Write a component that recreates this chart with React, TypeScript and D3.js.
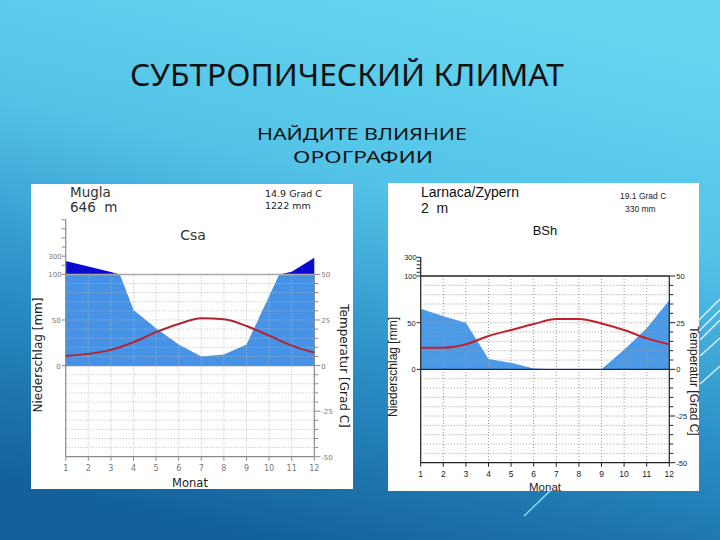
import React from "react";
import * as d3 from "d3";

const months = [1, 2, 3, 4, 5, 6, 7, 8, 9, 10, 11, 12];
const muglaPrecip = [246, 188, 126, 61, 41, 23, 10, 12, 23, 76, 130, 283];
const muglaTemp = [5.3, 6.4, 8.6, 12.8, 18.3, 22.8, 25.9, 25.4, 21.7, 16.4, 10.9, 7.1];
const larnacaPrecip = [65, 57, 50, 11, 7, 1, 0, 0, 0, 21, 44, 74];
const larnacaTemp = [11.6, 11.6, 13.4, 17.9, 21.1, 24.3, 27, 27, 24.6, 21.1, 16.6, 13.4];
const tempTicks = d3.range(-50, 51, 5);
const tempLabels = [-50, -25, 0, 25, 50];

type Cfg = {
  x0: number; x1: number; yTop: number; yBot: number; axisMax: number; compTickStep: number;
  precip: number[]; temp: number[];
  axis: string; text: string; grid: string; red: string; light: string; dark: string; hundred: string; zero: string;
  font: string; labelSize: number;
  precipLabelX: number; precipLabelY: number; tempLabelX: number; tempLabelY: number;
  monatX: number; monatY: number; monthLabelDy: number;
};

function Chart({ c }: { c: Cfg }) {
  const x = d3.scaleLinear().domain([1, 12]).range([c.x0, c.x1]);
  const yT = d3.scaleLinear().domain([-50, 50]).range([c.yBot, c.yTop]);
  const yLin = (p: number) => yT(Math.min(p, 100) / 2);
  const yComp = (p: number) => yT(50 + (Math.max(p, 100) - 100) / 20);
  const pts: { m: number; p: number }[] = [];
  c.precip.forEach((p, i) => {
    pts.push({ m: months[i], p });
    if (i < 11) {
      const q = c.precip[i + 1];
      if ((p - 100) * (q - 100) < 0) {
        const t = (100 - p) / (q - p);
        pts.push({ m: months[i] + t, p: 100 });
      }
    }
  });
  const light = d3.area<{ m: number; p: number }>().x(d => x(d.m)).y0(yT(0)).y1(d => yLin(d.p))(pts) || "";
  const dark = d3.area<{ m: number; p: number }>().x(d => x(d.m)).y0(yT(50)).y1(d => yComp(d.p))(pts) || "";
  const tline = d3.line<number>().x((_, i) => x(months[i])).y(d => yT(d)).curve(d3.curveMonotoneX)(c.temp) || "";
  const compTicks = d3.range(100, c.axisMax + 1, c.compTickStep);
  const axisTopY = yComp(c.axisMax);
  return (
    <g fontFamily={c.font}>
      <path d={light} fill={c.light} />
      <path d={dark} fill={c.dark} />
      {months.slice(1, 11).map(m => (
        <line key={"v" + m} x1={x(m)} x2={x(m)} y1={yT(50)} y2={yT(-50)} stroke={c.grid} strokeDasharray="1,2" strokeWidth={1} />
      ))}
      {tempTicks.filter(t => t > -50 && t < 50 && t !== 0).map(t => (
        <line key={"h" + t} x1={c.x0} x2={c.x1} y1={yT(t)} y2={yT(t)} stroke={c.grid} strokeDasharray="1,2" strokeWidth={1} />
      ))}
      <line x1={c.x0} x2={c.x1} y1={yT(0)} y2={yT(0)} stroke={c.zero} strokeWidth={1.2} />
      <line x1={c.x0} x2={c.x1} y1={yT(50)} y2={yT(50)} stroke={c.hundred} strokeWidth={1.5} />
      <line x1={c.x0} x2={c.x0} y1={axisTopY} y2={yT(-50)} stroke={c.axis} strokeWidth={1.2} />
      <line x1={c.x1} x2={c.x1} y1={yT(50)} y2={yT(-50)} stroke={c.axis} strokeWidth={1.2} />
      <line x1={c.x0} x2={c.x1} y1={yT(-50)} y2={yT(-50)} stroke={c.axis} strokeWidth={1.2} />
      {compTicks.map(t => (
        <line key={"c" + t} x1={c.x0 - 4} x2={c.x0} y1={yComp(t)} y2={yComp(t)} stroke={c.axis} strokeWidth={1} />
      ))}
      {[0, 50].map(t => (
        <line key={"l" + t} x1={c.x0 - 4} x2={c.x0} y1={yLin(t)} y2={yLin(t)} stroke={c.axis} strokeWidth={1} />
      ))}
      {[300, 100].map(t => (
        <text key={"cl" + t} x={c.x0 - 4} y={yComp(t) + 3} fontSize={c.labelSize - 1} fill={c.text} textAnchor="end">{t}</text>
      ))}
      {[50, 0].map(t => (
        <text key={"ll" + t} x={c.x0 - 5} y={yLin(t) + 3} fontSize={c.labelSize - 1} fill={c.text} textAnchor="end">{t}</text>
      ))}
      {tempTicks.map(t => (
        <line key={"rt" + t} x1={c.x1} x2={c.x1 + (t % 25 === 0 ? 6 : 4)} y1={yT(t)} y2={yT(t)} stroke={c.axis} strokeWidth={1} />
      ))}
      {tempLabels.map(t => (
        <text key={"rl" + t} x={c.x1 + 7} y={yT(t) + 3} fontSize={c.labelSize - 1} fill={c.text}>{t}</text>
      ))}
      {months.map(m => (
        <g key={"m" + m}>
          <line x1={x(m)} x2={x(m)} y1={yT(-50)} y2={yT(-50) + 4} stroke={c.axis} strokeWidth={1} />
          <text x={x(m)} y={yT(-50) + c.monthLabelDy} fontSize={c.labelSize} fill={c.text} textAnchor="middle">{m}</text>
        </g>
      ))}
      <path d={tline} fill="none" stroke={c.red} strokeWidth={2} />
      <text x={c.monatX} y={c.monatY} fontSize={11.5} fill="#222" textAnchor="middle">Monat</text>
      <text transform={`translate(${c.precipLabelX},${c.precipLabelY}) rotate(-90)`} fontSize={12} fill="#222" textAnchor="middle">Niederschlag [mm]</text>
      <text transform={`translate(${c.tempLabelX},${c.tempLabelY}) rotate(90)`} fontSize={12} fill="#222" textAnchor="middle">Temperatur [Grad C]</text>
    </g>
  );
}

const leftCfg: Cfg = {
  x0: 65.7, x1: 314.3, yTop: 274.4, yBot: 456.7, axisMax: 700, compTickStep: 100,
  precip: muglaPrecip, temp: muglaTemp,
  axis: "#8a8a8a", text: "#777", grid: "#b8b8b8", red: "#b02535", light: "#4592e6", dark: "#0a0ad0", hundred: "#aaaaaa", zero: "#8a8a8a",
  font: "DejaVu Sans, sans-serif", labelSize: 8,
  precipLabelX: 42, precipLabelY: 355, tempLabelX: 340, tempLabelY: 366,
  monatX: 190, monatY: 487, monthLabelDy: 14,
};

const rightCfg: Cfg = {
  x0: 420.7, x1: 669.3, yTop: 276, yBot: 462.7, axisMax: 300, compTickStep: 40,
  precip: larnacaPrecip, temp: larnacaTemp,
  axis: "#222", text: "#222", grid: "#9a9a9a", red: "#c3202c", light: "#4a9ae8", dark: "#0a0ad0", hundred: "#222", zero: "#1a2a60",
  font: "Liberation Sans, Arial, sans-serif", labelSize: 8.5,
  precipLabelX: 397, precipLabelY: 367, tempLabelX: 690, tempLabelY: 381,
  monatX: 545, monatY: 491, monthLabelDy: 14,
};

export default function App() {
  return (
    <div style={{ position: "absolute", left: 0, top: 0, width: 720, height: 540 }}>
      <svg width={720} height={540} style={{ display: "block" }}>
        <defs>
          <linearGradient id="bg" x1="0.65" y1="0" x2="0.35" y2="1">
            <stop offset="0" stopColor="#66d6f0" />
            <stop offset="0.35" stopColor="#52c2e8" />
            <stop offset="0.65" stopColor="#2c90c6" />
            <stop offset="1" stopColor="#13609b" />
          </linearGradient>
        </defs>
        <rect x={0} y={0} width={720} height={540} fill="url(#bg)" />
        <text x={130} y={86} fontFamily="Noto Sans, sans-serif" fontSize={30} fill="#111" textLength={434} lengthAdjust="spacingAndGlyphs">СУБТРОПИЧЕСКИЙ КЛИМАТ</text>
        <text x={257} y={140} fontFamily="Noto Sans, sans-serif" fontSize={16.5} fill="#111" textLength={210} lengthAdjust="spacingAndGlyphs">НАЙДИТЕ ВЛИЯНИЕ</text>
        <text x={293} y={163} fontFamily="Noto Sans, sans-serif" fontSize={16.5} fill="#111" textLength={140} lengthAdjust="spacingAndGlyphs">ОРОГРАФИИ</text>

        <rect x={31} y={184} width={322} height={305} fill="#ffffff" />
        <rect x={388} y={183} width={311} height={308} fill="#ffffff" />

        <text x={70} y={197} fontFamily="DejaVu Sans, sans-serif" fontSize={13.5} fill="#333">Mugla</text>
        <text x={70} y={212} fontFamily="DejaVu Sans, sans-serif" fontSize={13.5} fill="#333">{"646\u00a0\u00a0m"}</text>
        <text x={265} y={197} fontFamily="DejaVu Sans, sans-serif" fontSize={9.5} fill="#222">14.9 Grad C</text>
        <text x={265} y={209} fontFamily="DejaVu Sans, sans-serif" fontSize={9.5} fill="#222">1222 mm</text>
        <text x={193} y={240} fontFamily="DejaVu Sans, sans-serif" fontSize={14} fill="#333" textAnchor="middle">Csa</text>

        <text x={421} y={197} fontFamily="Liberation Sans, Arial, sans-serif" fontSize={14} fill="#111">Larnaca/Zypern</text>
        <text x={421} y={213} fontFamily="Liberation Sans, Arial, sans-serif" fontSize={14} fill="#111">{"2\u00a0\u00a0m"}</text>
        <text x={620} y={199} fontFamily="Liberation Sans, Arial, sans-serif" fontSize={8.5} fill="#222">19.1 Grad C</text>
        <text x={625} y={212} fontFamily="Liberation Sans, Arial, sans-serif" fontSize={8.5} fill="#222">330 mm</text>
        <text x={545} y={235} fontFamily="Liberation Sans, Arial, sans-serif" fontSize={13} fill="#111" textAnchor="middle">BSh</text>

        <Chart c={leftCfg} />
        <Chart c={rightCfg} />

        <g stroke="#e8f8ff" strokeWidth={1.6} opacity={0.85}>
          <line x1={697} y1={322} x2={720} y2={299} />
          <line x1={699} y1={331} x2={720} y2={310} />
          <line x1={700} y1={340} x2={720} y2={320} />
          <line x1={700} y1={356} x2={720} y2={338} />
          <line x1={700} y1={384} x2={720} y2={366} />
        </g>
        <line x1={524} y1={516} x2={551} y2={490} stroke="#7fe0f5" strokeWidth={1.5} />
      </svg>
    </div>
  );
}
